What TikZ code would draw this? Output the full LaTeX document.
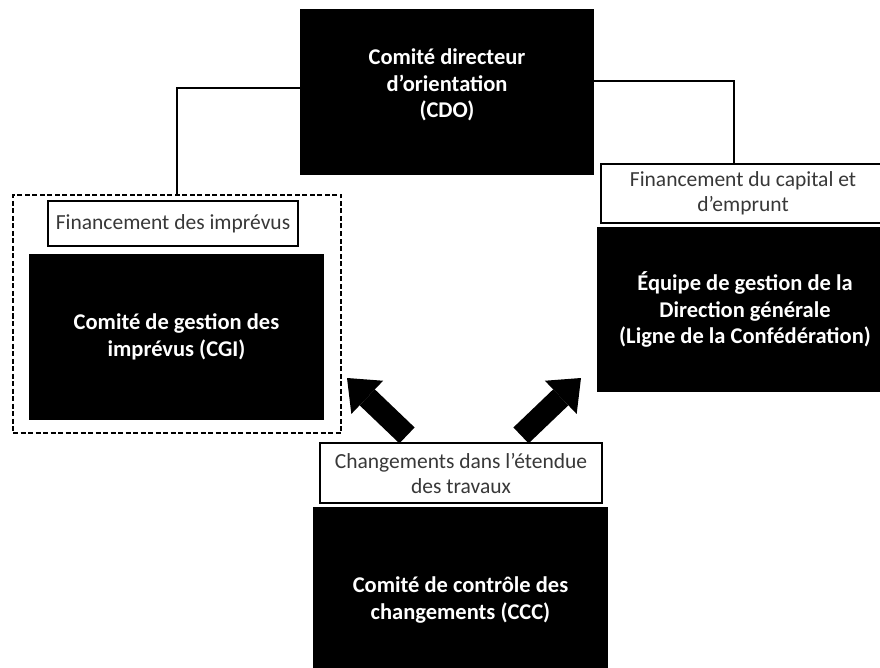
\documentclass[tikz,border=0pt]{standalone}
\usepackage{fontspec}
\setmainfont{Carlito}
\usepackage{tikz}
\usetikzlibrary{arrows.meta,positioning}

\begin{document}
\begin{tikzpicture}
[x=1pt,y=-1pt]
\tikzset{
	blackbox/.style = {rectangle, fill = black, text = white, font = \bfseries\fontsize{22.5}{26.5}\selectfont, align = center, inner sep = 0},
	tag/.style = {rectangle, draw, line width = 1.2pt, fill = white, text = black!78, font = \fontsize{21.5}{25}\selectfont, align = center, inner sep = 0},
	group/.style = {rectangle, draw, line width = 1.1pt, dash pattern = on 5pt off 2.5pt},
	link/.style = {line width = 1.3pt},
	bigarrow/.style = {line width = 22pt, -{Triangle[width = 46pt, length = 28pt, line width = 0pt]}}
}
\useasboundingbox (0,0) rectangle (880,668);
\clip (0,0) rectangle (880,668);

\node(cdo) [blackbox, minimum width = 294pt, minimum height = 166pt, text depth = 17pt] at (447,92) {Comité directeur\\d’orientation\\(CDO)};

\node(grp) [group, minimum width = 328pt, minimum height = 238pt] at (177,314) {};
\node(fin) [tag, minimum width = 250pt, minimum height = 45pt] at (173,223.5) {Financement des imprévus};
\node(cgi) [blackbox, minimum width = 295pt, minimum height = 166pt] at (176.5,337) {Comité de gestion des\\imprévus (CGI)};

\node(cap) [tag, minimum width = 284pt, minimum height = 59pt] at (743,193.5) {Financement du capital et\\d’emprunt};
\node(ege) [blackbox, minimum width = 296pt, minimum height = 165pt] at (745,309.5) {Équipe de gestion de la\\Direction générale\\(Ligne de la Confédération)};

\node(chg) [tag, minimum width = 282pt, minimum height = 60pt] at (461,473) {Changements dans l’étendue\\des travaux};
\node(ccc) [blackbox, minimum width = 295pt, minimum height = 186pt] at (460.5,600) {Comité de contrôle des\\changements (CCC)};

\draw [link] ([yshift=4pt]cdo.west) -| (grp.north);
\draw [link] ([yshift=11pt]cdo.east) -| ([xshift=-9pt]cap.north);

\coordinate (tipL) at (347,378);
\coordinate (tipR) at (581,378);
\draw [bigarrow] ([xshift=-54pt,yshift=7pt]chg.north) -- (tipL);
\draw [bigarrow] ([xshift=60pt,yshift=7pt]chg.north) -- (tipR);

\end{tikzpicture}
\end{document}
